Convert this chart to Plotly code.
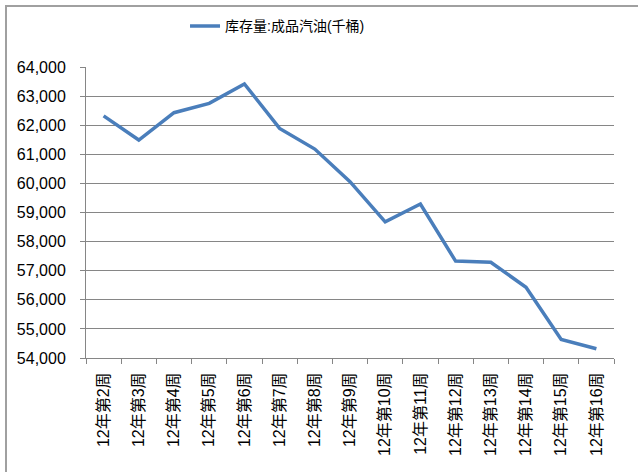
import plotly.graph_objects as go

weeks = [f"12年第{i}周" for i in range(2, 17)]
inventory = [62320, 61490, 62430, 62750, 63420, 61890, 61180, 60060,
             58680, 59290, 57330, 57290, 56430, 54640, 54320]
series_name = "库存量:成品汽油(千桶)"
y_ticks = list(range(54000, 64001, 1000))

fig = go.Figure()
fig.add_trace(go.Scatter(
    x=weeks, y=inventory, mode="lines", name=series_name,
    line=dict(color="#4A7EBB", width=3.5),
))

font_fam = "Liberation Sans, Noto Sans CJK SC, sans-serif"
fig.update_layout(
    width=638, height=472,
    margin=dict(l=86, r=24, t=67, b=114, autoexpand=False),
    paper_bgcolor="white", plot_bgcolor="white",
    font=dict(family=font_fam, size=16, color="black"),
    showlegend=True,
    legend=dict(orientation="h", xref="container", yref="container",
                x=0.29, y=0.978, xanchor="left", yanchor="top",
                font=dict(size=14), bgcolor="rgba(0,0,0,0)"),
    xaxis=dict(type="category", tickson="boundaries", ticks="outside",
               ticklen=5, tickcolor="#868686", showline=True,
               linecolor="#868686", linewidth=1, showgrid=False,
               tickangle=-90, tickfont=dict(size=16), range=[-0.5, 14.5],
               ticklabelstandoff=7),
    yaxis=dict(range=[54000, 64000], tickvals=y_ticks,
               tickformat=",d", ticks="outside", ticklen=5,
               tickcolor="#868686", showline=True, linecolor="#868686",
               linewidth=1, showgrid=True, gridcolor="#868686",
               gridwidth=1, zeroline=False, tickfont=dict(size=16),
               ticklabelstandoff=11),
    shapes=[dict(type="rect", xref="paper", yref="paper",
                 x0=-80/528, x1=1+60/528, y0=-160/291, y1=1+61/291,
                 line=dict(color="#A0A0A0", width=2), layer="below")],
)

fig.write_html("out.html", config={"displayModeBar": False},
               post_script="document.body.style.margin='0px';")
